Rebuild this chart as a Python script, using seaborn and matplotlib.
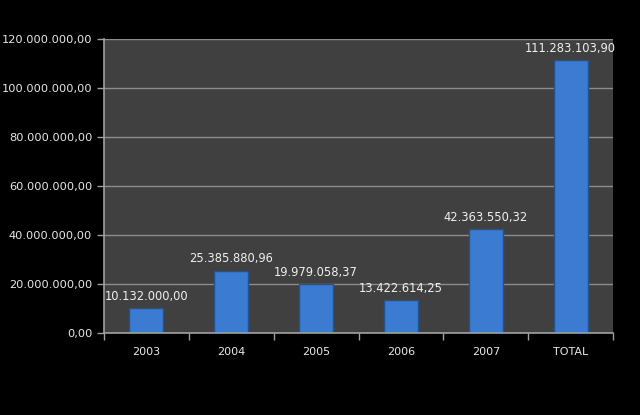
import matplotlib
matplotlib.use("Agg")
import matplotlib.pyplot as plt
import seaborn as sns
import pandas as pd
import numpy as np

categories = ["2003", "2004", "2005", "2006", "2007", "TOTAL"]
values = [10132000.00, 25385880.96, 19979058.37, 13422614.25, 42363550.32, 111283103.90]
labels = ["10.132.000,00", "25.385.880,96", "19.979.058,37", "13.422.614,25", "42.363.550,32", "111.283.103,90"]

def br(v):
    s = f"{v:,.2f}"
    return s.replace(",", "X").replace(".", ",").replace("X", ".")

sns.set_style("dark")
plt.rcParams['font.family'] = ['DejaVu Sans']

df = pd.DataFrame({"cat": categories, "val": values})
fig = plt.figure(figsize=(6.4, 4.15), dpi=100, facecolor="black")
ax = fig.add_axes([0.1625, 0.1976, 0.7955, 0.7084])
ax.set_facecolor("#404040")

sns.barplot(data=df, x="cat", y="val", ax=ax, color="#3b7bd2", width=0.4,
            edgecolor="#24528f", linewidth=1.0, saturation=1)

for i, (v, lab) in enumerate(zip(values, labels)):
    ax.text(i, v + 2.2e6, lab, ha="center", va="bottom", color="#f0f0f0", fontsize=8.3)

ax.set_ylim(0, 120e6)
ax.set_xlim(-0.5, 5.5)
ax.set_yticks(np.arange(0, 120e6 + 1, 20e6))
ax.set_yticklabels([br(v) for v in np.arange(0, 120e6 + 1, 20e6)], color="#e8e8e8", fontsize=8.2)
ax.set_xticklabels(categories, color="#e8e8e8", fontsize=8)
ax.tick_params(axis="x", which="major", length=0, pad=10, bottom=True)
ax.set_xticks(np.arange(-0.5, 6, 1), minor=True)
ax.tick_params(axis="x", which="minor", length=5, width=1, color="#a0a0a0", direction="out", bottom=True)
ax.tick_params(axis="y", length=5, width=1, color="#a0a0a0", direction="out", left=True)
ax.grid(axis="y", color="#8c8c8c", linewidth=1)
ax.grid(axis="x", visible=False)
ax.set_axisbelow(True)
for side in ["top", "right"]:
    ax.spines[side].set_visible(False)
for side in ["left", "bottom"]:
    ax.spines[side].set_visible(True)
    ax.spines[side].set_color("#a0a0a0")
    ax.spines[side].set_linewidth(1.2)
ax.set_xlabel("")
ax.set_ylabel("")

fig.savefig("out.png", dpi=100, facecolor="black")
